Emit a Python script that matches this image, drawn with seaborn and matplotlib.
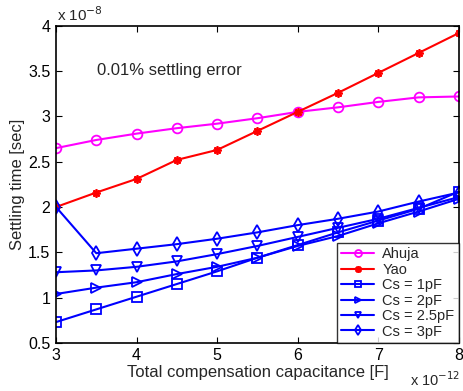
import numpy as np
import seaborn as sns
import matplotlib.pyplot as plt

sns.set_style("ticks")
plt.rcParams['font.family'] = ['Liberation Sans', 'DejaVu Sans']

# total compensation capacitance, x 1e-12 F
cap = [3, 3.5, 4, 4.5, 5, 5.5, 6, 6.5, 7, 7.5, 8]

# settling time, x 1e-8 s
ahuja = [2.65, 2.74, 2.81, 2.87, 2.92, 2.98, 3.05, 3.10, 3.16, 3.21, 3.22]
yao = [2.00, 2.16, 2.31, 2.52, 2.63, 2.84, 3.05, 3.26, 3.48, 3.70, 3.92]
cs_1pf = [0.73, 0.87, 1.01, 1.15, 1.29, 1.44, 1.58, 1.72, 1.85, 1.98, 2.17]
cs_2pf = [1.04, 1.11, 1.17, 1.26, 1.34, 1.44, 1.57, 1.68, 1.82, 1.95, 2.09]
cs_25pf = [1.28, 1.30, 1.34, 1.40, 1.48, 1.57, 1.67, 1.77, 1.87, 1.99, 2.11]
cs_3pf = [2.00, 1.49, 1.54, 1.59, 1.65, 1.72, 1.80, 1.87, 1.95, 2.06, 2.16]

series = [
    ("Ahuja", ahuja, "#ff00ff", "o", 7),
    ("Yao", yao, "#ff0000", (8, 2, 0), 6),
    ("Cs = 1pF", cs_1pf, "#0000ff", "s", 6.5),
    ("Cs = 2pF", cs_2pf, "#0000ff", ">", 7),
    ("Cs = 2.5pF", cs_25pf, "#0000ff", "v", 7),
    ("Cs = 3pF", cs_3pf, "#0000ff", "d", 7),
]

fig = plt.figure(figsize=(4.63, 3.91), dpi=100)
ax = fig.add_axes([0.121, 0.123, 0.870, 0.811])

for name, vals, col, mk, ms in series:
    sns.lineplot(x=cap, y=vals, ax=ax, label=name, color=col, linewidth=1.5,
                 marker=mk, markersize=ms, markerfacecolor="none",
                 markeredgecolor=col, markeredgewidth=1.3)

ax.set_xlim(3, 8)
ax.set_ylim(0.5, 4)
ax.set_xticks(np.arange(3, 8.1, 1))
ax.set_yticks(np.arange(0.5, 4.01, 0.5))
ax.set_yticklabels(["0.5", "1", "1.5", "2", "2.5", "3", "3.5", "4"])
ax.tick_params(direction="in", top=True, right=True, labelsize=11.5,
               length=4, width=0.8, colors="black", pad=4)
for sp in ax.spines.values():
    sp.set_visible(True)
    sp.set_linewidth(1.2)
    sp.set_color("black")

ax.set_xlabel("Total compensation capacitance [F]", fontsize=12, labelpad=1)
ax.set_ylabel("Settling time [sec]", fontsize=12, labelpad=2)

ax.text(3.51, 3.51, "0.01% settling error", fontsize=12, va="center")
fig.text(0.123, 0.962, r"x 10$^{-8}$", fontsize=11, va="center")
fig.text(0.995, 0.030, r"x 10$^{-12}$", fontsize=10.5, va="center", ha="right")

leg = ax.legend(loc="lower right", fontsize=10.5, frameon=True, fancybox=False,
                borderaxespad=0, handlelength=2.2, handletextpad=0.6,
                labelspacing=0.1, borderpad=0.3)
leg.get_frame().set_edgecolor("black")
leg.get_frame().set_linewidth(1.0)
for h in leg.legend_handles:
    h.set_markersize(5)

fig.savefig("out.png", dpi=100)
